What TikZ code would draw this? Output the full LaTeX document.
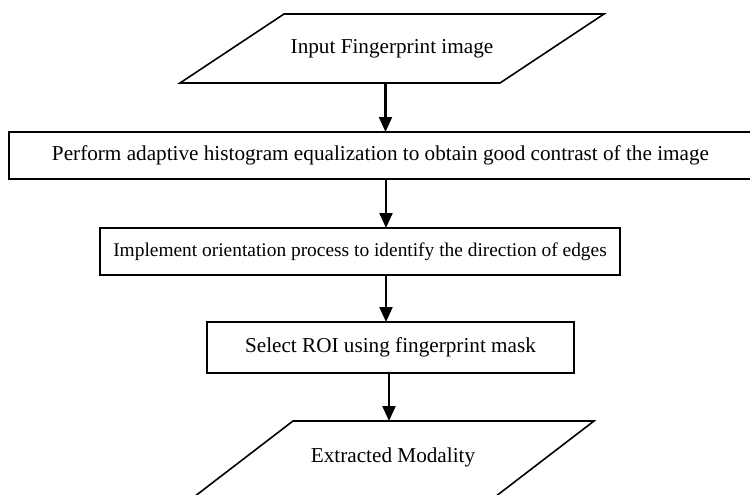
\documentclass[tikz,border=0pt]{standalone}
\usepackage{fontspec}
\setmainfont{Liberation Serif}
\usetikzlibrary{arrows.meta}
\begin{document}
\begin{tikzpicture}[x=1pt,y=-1pt,
  every node/.style={inner sep=0pt, outer sep=0pt, font=\fontsize{21.2}{25}\selectfont},
  procbox/.style={draw, line width=1.6pt},
  ioshape/.style={draw, line width=1.6pt, line join=miter},
  arr/.style={line width=2.2pt, -{Triangle[length=15pt,width=13pt]}}]
\useasboundingbox (0,0) rectangle (750,495);
\clip (0,0) rectangle (750,495);
% input parallelogram
\node[minimum width=424, minimum height=69] (in) at (392,48.5) {Input Fingerprint image};
\draw[ioshape] (in.south west) -- ++(320,0) -- (in.north east) -- ++(-320,0) -- cycle;
% process boxes
\node[procbox, minimum width=743, minimum height=47] (b1) at (380.5,155.5)
  {Perform adaptive histogram equalization to obtain good contrast of the image};
\node[procbox, minimum width=520, minimum height=47, font=\fontsize{19.4}{23}\selectfont] (b2) at (360,251.5)
  {Implement orientation process to identify the direction of edges};
\node[procbox, minimum width=367, minimum height=51] (b3) at (390.5,347.5)
  {Select ROI using fingerprint mask};
% output parallelogram
\node[minimum width=404, minimum height=79] (out) at (392,460.5) {};
\draw[ioshape] (out.north east) -- ++(-301,0) -- (out.south west) -- ++(301,0) -- cycle;
\node (outtext) at (393,457) {Extracted Modality};
% connectors
\coordinate (ax1) at (385.5,0);
\coordinate (ax2) at (386,0);
\coordinate (ax4) at (389,0);
\draw[arr] (in.south -| ax1) -- (b1.north -| ax1);
\draw[arr] (b1.south -| ax2) -- (b2.north -| ax2);
\draw[arr] (b2.south -| ax2) -- (b3.north -| ax2);
\draw[arr] (b3.south -| ax4) -- (out.north -| ax4);
\end{tikzpicture}
\end{document}
